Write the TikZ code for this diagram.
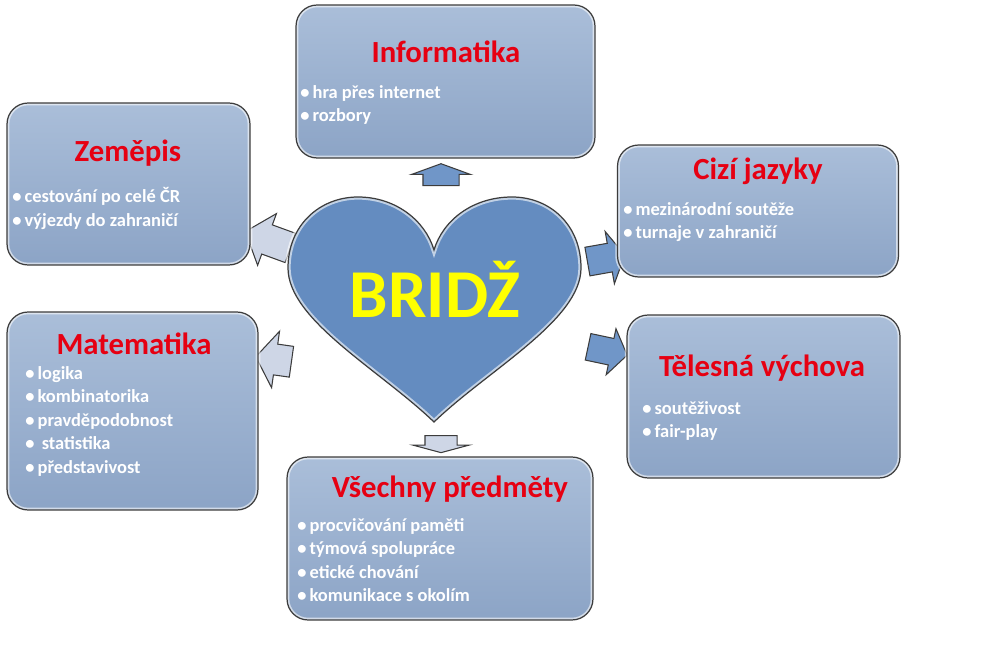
\documentclass[tikz,border=0pt]{standalone}
\usepackage{fontspec}
\setmainfont{Carlito}
\usepackage{tikz}
\usetikzlibrary{shapes.arrows}
\definecolor{BRHeart}{RGB}{100,140,192}
\definecolor{BRBoxTop}{RGB}{170,190,217}
\definecolor{BRBoxBot}{RGB}{140,164,198}
\definecolor{BRRed}{RGB}{230,0,18}
\definecolor{BRYellow}{RGB}{255,255,0}
\definecolor{BRPale}{RGB}{206,214,230}
\definecolor{BRMid}{RGB}{112,150,200}
\definecolor{BREdge}{RGB}{60,60,60}

\begin{document}
\begin{tikzpicture}[x=0.02cm, y=-0.02cm,
          box/.style={rectangle, rounded corners=12pt, top color=BRBoxTop,
                      bottom color=BRBoxBot, draw=white, draw opacity=.6,
                      line width=2.6pt,
                      postaction={draw=BREdge, draw opacity=1, line width=.7pt}},
          head/.style={anchor=base, text=BRRed,
                       font=\fontsize{17.5}{21}\selectfont\bfseries},
          items/.style={anchor=north west, inner sep=0pt, align=left, text=white,
                        font=\fontsize{10.5}{13.4}\selectfont\bfseries},
          flow/.style={shape=single arrow, draw=BREdge, line width=.6pt,
                       inner xsep=0pt},
          heart/.style={fill=BRHeart, draw=white, draw opacity=.6, line width=3pt,
                        postaction={draw=BREdge, draw opacity=1, line width=.7pt}}
        ]
        \useasboundingbox (0,0) rectangle (996,671);

        % Arrows (under the heart)
        \node[flow, fill=BRMid, rotate=90, minimum height=0.44cm, inner ysep=0.35cm,
              single arrow head extend=0.23cm, single arrow tip angle=140] (a-inf) at (441,178) {};
        \node[flow, fill=BRPale, rotate=160, minimum height=0.96cm, inner ysep=0.30cm,
              single arrow head extend=0.24cm, single arrow tip angle=100] (a-zem) at (274,242) {};
        \node[flow, fill=BRMid, rotate=10, minimum height=0.76cm, inner ysep=0.28cm,
              single arrow head extend=0.24cm, single arrow tip angle=120] (a-ciz) at (602,259) {};
        \node[flow, fill=BRPale, rotate=172, minimum height=0.72cm, inner ysep=0.30cm,
              single arrow head extend=0.26cm, single arrow tip angle=110] (a-mat) at (279,360) {};
        \node[flow, fill=BRMid, rotate=-12, minimum height=0.80cm, inner ysep=0.26cm,
              single arrow head extend=0.20cm, single arrow tip angle=110] (a-tel) at (603,350) {};
        \node[flow, fill=BRPale, rotate=-90, minimum height=0.34cm, inner ysep=0.31cm,
              single arrow head extend=0.24cm, single arrow tip angle=150] (a-vse) at (441,442) {};

        % Heart
        \draw[heart] (434,422) .. controls (380,370) and (288,320) .. (288,268)
              .. controls (288,225) and (320,197) .. (358,197)
              .. controls (395,197) and (425,220) .. (434,250)
              .. controls (443,220) and (473,197) .. (512,197)
              .. controls (550,197) and (581,225) .. (581,268)
              .. controls (581,320) and (488,370) .. (434,422) -- cycle;
        \node[anchor=base, text=BRYellow, font=\fontsize{39}{44}\selectfont\bfseries]
              (bridz) at (435,318) {BRIDŽ};

        % Informatika
        \node[box, minimum width=5.98cm, minimum height=3.06cm] (inf) at (445.5,81.5) {};
        \node[head] (inf-t) at (446,63) {Informatika};
        \node[items] (inf-l) at (300,85) {•\,hra přes internet\\•\,rozbory};

        % Zeměpis
        \node[box, minimum width=4.86cm, minimum height=3.24cm] (zem) at (128.5,184) {};
        \node[head] (zem-t) at (128,162) {Zeměpis};
        \node[items] (zem-l) at (12,187) {•\,cestování po celé ČR\\•\,výjezdy do zahraničí};

        % Cizí jazyky
        \node[box, minimum width=5.62cm, minimum height=2.64cm] (ciz) at (758,211) {};
        \node[head] (ciz-t) at (758,180) {Cizí jazyky};
        \node[items] (ciz-l) at (623,202) {•\,mezinárodní soutěže\\•\,turnaje v zahraničí};

        % Tělesná výchova
        \node[box, minimum width=5.46cm, minimum height=3.26cm] (tel) at (763.5,396.5) {};
        \node[head] (tel-t) at (762,377) {Tělesná výchova};
        \node[items] (tel-l) at (642,401) {•\,soutěživost\\•\,fair-play};

        % Matematika
        \node[box, minimum width=5.02cm, minimum height=3.96cm] (mat) at (132.5,411) {};
        \node[head] (mat-t) at (134,355) {Matematika};
        \node[items] (mat-l) at (25,366) {•\,logika\\•\,kombinatorika\\•\,pravděpodobnost\\%
              •\ \,statistika\\•\,představivost};

        % Všechny předměty
        \node[box, minimum width=6.12cm, minimum height=3.26cm] (vse) at (440,538.5) {};
        \node[head] (vse-t) at (450,497) {Všechny předměty};
        \node[items] (vse-l) at (297,518) {•\,procvičování paměti\\•\,týmová spolupráce\\%
              •\,etické chování\\•\,komunikace s okolím};
      \end{tikzpicture}
\end{document}
